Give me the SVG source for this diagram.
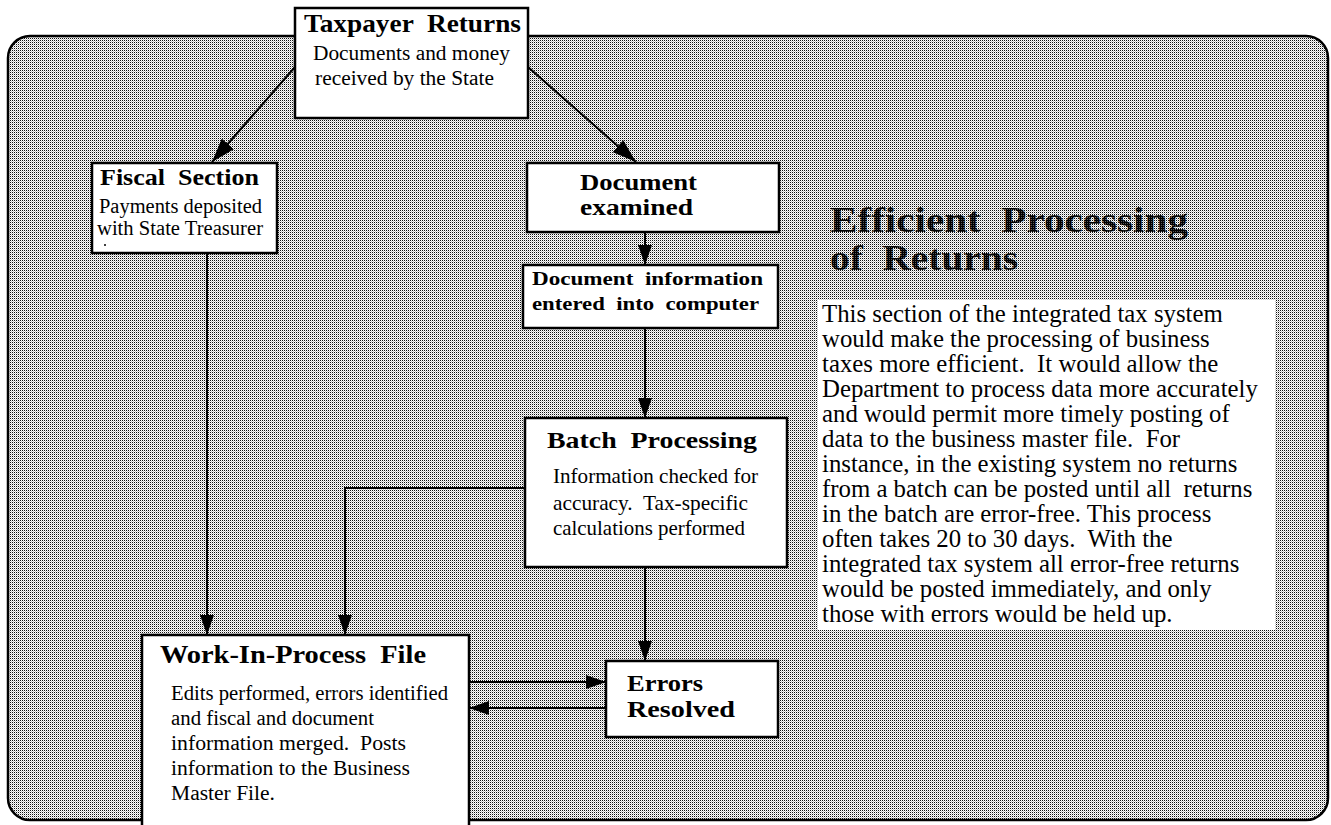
<svg xmlns="http://www.w3.org/2000/svg" width="1331" height="825" viewBox="0 0 1331 825">
<style>
.box{fill:#fff;stroke:#000;stroke-width:2.5}
.t{font-family:"Liberation Serif","Times New Roman",serif;fill:#000;white-space:pre}
.b{font-weight:bold}
.c{fill:none;stroke:#000;stroke-width:2}
.p{font-family:"Liberation Serif","Times New Roman",serif;font-size:24.8px;fill:#000;white-space:pre}
.h{font-family:"Liberation Serif","Times New Roman",serif;font-weight:bold;font-size:35px;fill:url(#tdots);white-space:pre}
</style>
<defs>
<pattern id="dots" width="2" height="2" patternUnits="userSpaceOnUse">
<rect width="2" height="2" fill="#fff"/>
<rect x="0" y="0" width="1" height="1" fill="#111"/>
<rect x="1" y="1" width="1" height="1" fill="#c4c4c4"/>
</pattern>
<pattern id="tdots" width="2" height="2" patternUnits="userSpaceOnUse">
<rect width="2" height="2" fill="#000"/>
<rect x="1" y="1" width="1" height="1" fill="#555"/>
</pattern>
<marker id="ah" viewBox="0 0 20 14" refX="20" refY="7" markerWidth="20" markerHeight="14" markerUnits="userSpaceOnUse" orient="auto">
<path d="M0,0 L20,7 L0,14 Z" fill="#000"/>
</marker>
<marker id="ahL" viewBox="0 0 24 16" refX="24" refY="8" markerWidth="24" markerHeight="16" markerUnits="userSpaceOnUse" orient="auto">
<path d="M0,0 L24,8 L0,16 Z" fill="#000"/>
</marker>
</defs>

<g id="background">
<rect x="8" y="36" width="1320" height="784" rx="22" ry="22" fill="url(#dots)" stroke="#000" stroke-width="2.5"/>
</g>

<g id="connectors">
<line class="c" x1="295" y1="67" x2="212" y2="162" marker-end="url(#ahL)"/>
<line class="c" x1="528" y1="67" x2="636" y2="162" marker-end="url(#ahL)"/>
<line class="c" x1="645" y1="232" x2="645" y2="265" marker-end="url(#ah)"/>
<line class="c" x1="645" y1="328" x2="645" y2="418" marker-end="url(#ah)"/>
<line class="c" x1="207" y1="253" x2="207" y2="635" stroke-width="1.5" marker-end="url(#ah)"/>
<polyline class="c" points="525,488 345,488 345,635" marker-end="url(#ah)"/>
<line class="c" x1="645" y1="567" x2="645" y2="661" marker-end="url(#ah)"/>
<line class="c" x1="469" y1="682" x2="606" y2="682" marker-end="url(#ah)"/>
<line class="c" x1="606" y1="708" x2="469" y2="708" marker-end="url(#ah)"/>
</g>

<g id="taxpayer-returns">
<rect class="box" x="295" y="8" width="233" height="110"/>
<text class="t b" x="304" y="32" font-size="25" textLength="217" lengthAdjust="spacingAndGlyphs">Taxpayer  Returns</text>
<text class="t" x="313" y="60" font-size="20.5" textLength="197" lengthAdjust="spacingAndGlyphs">Documents and money</text>
<text class="t" x="315" y="85" font-size="20.5" textLength="179" lengthAdjust="spacingAndGlyphs">received by the State</text>
</g>

<g id="fiscal-section">
<rect class="box" x="92" y="163" width="185" height="90"/>
<text class="t b" x="100" y="185" font-size="24" textLength="159" lengthAdjust="spacingAndGlyphs">Fiscal  Section</text>
<text class="t" x="99" y="213" font-size="20.5" textLength="163" lengthAdjust="spacingAndGlyphs">Payments deposited</text>
<text class="t" x="97" y="235" font-size="20.5" textLength="166" lengthAdjust="spacingAndGlyphs">with State Treasurer</text>
<circle cx="105" cy="245" r="1" fill="#000"/>
</g>

<g id="document-examined">
<rect class="box" x="527" y="163" width="252" height="69"/>
<text class="t b" x="580" y="190" font-size="24" textLength="117" lengthAdjust="spacingAndGlyphs">Document</text>
<text class="t b" x="580" y="215" font-size="24" textLength="113" lengthAdjust="spacingAndGlyphs">examined</text>
</g>

<g id="document-information">
<rect class="box" x="523" y="265" width="255" height="63"/>
<text class="t b" x="532" y="285" font-size="19" textLength="231" lengthAdjust="spacingAndGlyphs">Document  information</text>
<text class="t b" x="532" y="310" font-size="19" textLength="227" lengthAdjust="spacingAndGlyphs">entered  into  computer</text>
</g>

<g id="batch-processing">
<rect class="box" x="525" y="418" width="262" height="149"/>
<text class="t b" x="547" y="448" font-size="23" textLength="210" lengthAdjust="spacingAndGlyphs">Batch  Processing</text>
<text class="t" x="553" y="483" font-size="21" textLength="205" lengthAdjust="spacingAndGlyphs">Information checked for</text>
<text class="t" x="553" y="510" font-size="21" textLength="195" lengthAdjust="spacingAndGlyphs">accuracy.  Tax-specific</text>
<text class="t" x="553" y="535" font-size="21" textLength="192" lengthAdjust="spacingAndGlyphs">calculations performed</text>
</g>

<g id="work-in-process-file">
<rect class="box" x="142" y="635" width="327" height="200"/>
<text class="t b" x="160" y="663" font-size="25" textLength="266" lengthAdjust="spacingAndGlyphs">Work-In-Process  File</text>
<text class="t" x="171" y="700" font-size="20.5" textLength="277" lengthAdjust="spacingAndGlyphs">Edits performed, errors identified</text>
<text class="t" x="171" y="725" font-size="20.5" textLength="203" lengthAdjust="spacingAndGlyphs">and fiscal and document</text>
<text class="t" x="171" y="750" font-size="20.5" textLength="235" lengthAdjust="spacingAndGlyphs">information merged.  Posts</text>
<text class="t" x="171" y="775" font-size="20.5" textLength="239" lengthAdjust="spacingAndGlyphs">information to the Business</text>
<text class="t" x="171" y="800" font-size="20.5" textLength="104" lengthAdjust="spacingAndGlyphs">Master File.</text>
</g>

<g id="errors-resolved">
<rect class="box" x="606" y="661" width="172" height="76"/>
<text class="t b" x="627" y="691" font-size="24" textLength="76" lengthAdjust="spacingAndGlyphs">Errors</text>
<text class="t b" x="627" y="717" font-size="24" textLength="108" lengthAdjust="spacingAndGlyphs">Resolved</text>
</g>

<g id="title">
<text class="h" x="830" y="232" textLength="358" lengthAdjust="spacingAndGlyphs">Efficient  Processing</text>
<text class="h" x="830" y="270" textLength="188" lengthAdjust="spacingAndGlyphs">of  Returns</text>
</g>

<g id="description">
<rect x="818" y="300" width="457" height="330" fill="#fff"/>
<text class="p" x="822" y="322">This section of the integrated tax system</text>
<text class="p" x="822" y="347">would make the processing of business</text>
<text class="p" x="822" y="372">taxes more efficient.  It would allow the</text>
<text class="p" x="822" y="397">Department to process data more accurately</text>
<text class="p" x="822" y="422">and would permit more timely posting of</text>
<text class="p" x="822" y="447">data to the business master file.  For</text>
<text class="p" x="822" y="472">instance, in the existing system no returns</text>
<text class="p" x="822" y="497">from a batch can be posted until all  returns</text>
<text class="p" x="822" y="522">in the batch are error-free. This process</text>
<text class="p" x="822" y="547">often takes 20 to 30 days.  With the</text>
<text class="p" x="822" y="572">integrated tax system all error-free returns</text>
<text class="p" x="822" y="597">would be posted immediately, and only</text>
<text class="p" x="822" y="622">those with errors would be held up.</text>
</g>
</svg>
